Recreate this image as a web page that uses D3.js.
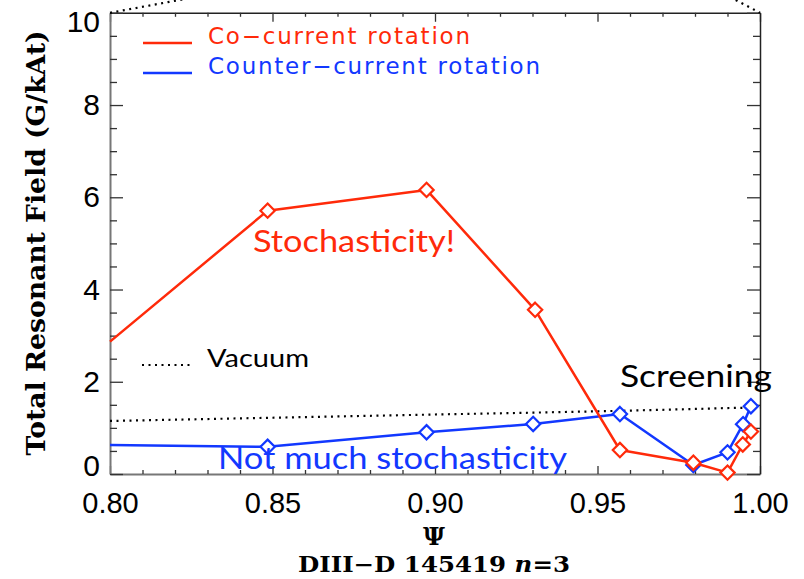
<!DOCTYPE html>
<html>
<head>
<meta charset="utf-8">
<script src="https://cdn.jsdelivr.net/npm/d3@7"></script>
<style>
  html, body { margin: 0; padding: 0; background: #fff; }
  svg { display: block; }
</style>
</head>
<body>
<svg id="chart" width="804" height="579"></svg>
<script>
// Normalised flux coordinate Ψ and total resonant field (G/kAt)
const coPsi      = [0.800, 0.8485, 0.8974, 0.9308, 0.9569, 0.9795, 0.9900, 0.9947, 0.9972];
const coField    = [2.87,  5.71,   6.16,   3.56,   0.52,   0.245,  0.03,   0.64,   0.92];
const counterPsi   = [0.800, 0.8485, 0.8974, 0.9302, 0.9569, 0.9795, 0.9900, 0.9948, 0.9972];
const counterField = [0.63,  0.59,   0.905,  1.085,  1.30,   0.195,  0.47,   1.08,   1.47];
const vacuumPsi   = [0.80, 0.85, 0.90, 0.93, 0.957, 0.98, 0.99, 1.00];
const vacuumField = [1.15, 1.22, 1.29, 1.33, 1.37,  1.41, 1.43, 1.44];
// vacuum trace running above the plotted range
const vacuumHighPsi   = [0.80, 0.86,  0.99,  1.00];
const vacuumHighField = [10.0, 10.78, 10.37, 10.0];

const xMajor = [0.80, 0.85, 0.90, 0.95, 1.00];
const yMajor = [0, 2, 4, 6, 8, 10];
const legendLabels = ["Co\u2212current rotation", "Counter\u2212current rotation"];

const RED = "#ff2a0a", BLUE = "#1238ff";

const svg = d3.select("#chart");
const L = 110, R = 760, T = 12.8, B = 474;
const x = d3.scaleLinear().domain([0.80, 1.00]).range([L, R]);
const y = d3.scaleLinear().domain([0, 10]).range([B, T]);

const xMinor = d3.range(80, 101).map(d => d / 100).filter(d => !xMajor.some(m => Math.abs(m - d) < 1e-9));
const yMinor = d3.range(0, 21).map(d => d / 2).filter(d => d % 2 !== 0);

const tickFont = "'Liberation Sans', Arial, sans-serif";

function styleAxis(g, color, width) {
  g.select(".domain").attr("stroke", color).attr("stroke-width", width);
  g.selectAll(".tick line").attr("stroke", "#333").attr("stroke-width", 1.3);
}
function minorTicks(g) {
  g.select(".domain").remove();
  g.selectAll("line").attr("stroke", "#333").attr("stroke-width", 1.3);
}

// bottom axis
const gB = svg.append("g").attr("transform", `translate(0,${B})`)
  .call(d3.axisBottom(x).tickValues(xMajor).tickSize(-8).tickSizeOuter(0)
        .tickPadding(18).tickFormat(d3.format(".2f")));
styleAxis(gB, "#777", 2);
gB.selectAll("text").attr("font-family", tickFont).attr("font-size", 29).attr("fill", "#000");
svg.append("g").attr("transform", `translate(0,${B})`)
  .call(d3.axisBottom(x).tickValues(xMinor).tickSize(-4).tickSizeOuter(0).tickFormat(""))
  .call(minorTicks);

// top axis
const gT = svg.append("g").attr("transform", `translate(0,${T})`)
  .call(d3.axisTop(x).tickValues(xMajor).tickSize(-9).tickSizeOuter(0).tickFormat(""));
styleAxis(gT, "#222", 1.5);
svg.append("g").attr("transform", `translate(0,${T})`)
  .call(d3.axisTop(x).tickValues(xMinor).tickSize(-4).tickSizeOuter(0).tickFormat(""))
  .call(minorTicks);

// left axis; end labels kept inside the frame height
const gL = svg.append("g").attr("transform", `translate(${L},0)`)
  .call(d3.axisLeft(y).tickValues(yMajor).tickSize(-13).tickSizeOuter(0).tickPadding(10).tickFormat(d3.format("d")));
styleAxis(gL, "#777", 2);
gL.selectAll("text").attr("font-family", tickFont).attr("font-size", 30).attr("fill", "#000")
  .attr("y", d => d === 10 ? 9 : d === 0 ? -8 : 0);
svg.append("g").attr("transform", `translate(${L},0)`)
  .call(d3.axisLeft(y).tickValues(yMinor).tickSize(-7).tickSizeOuter(0).tickFormat(""))
  .call(minorTicks);

// right axis
const gR = svg.append("g").attr("transform", `translate(${R},0)`)
  .call(d3.axisRight(y).tickValues(yMajor).tickSize(-13).tickSizeOuter(0).tickFormat(""));
styleAxis(gR, "#222", 1.5);
svg.append("g").attr("transform", `translate(${R},0)`)
  .call(d3.axisRight(y).tickValues(yMinor).tickSize(-7).tickSizeOuter(0).tickFormat(""))
  .call(minorTicks);

// data lines
const line = d3.line().x(d => x(d[0])).y(d => y(d[1]));
const zip = (a, b) => a.map((v, i) => [v, b[i]]);

svg.append("path").datum(zip(vacuumPsi, vacuumField)).attr("d", line)
  .attr("fill", "none").attr("stroke", "#000").attr("stroke-width", 2.2).attr("stroke-dasharray", "2,4.5");
svg.append("path").datum(zip(vacuumHighPsi, vacuumHighField)).attr("d", line)
  .attr("fill", "none").attr("stroke", "#000").attr("stroke-width", 2.2).attr("stroke-dasharray", "2,4.5");

const diamond = d3.symbol().type(d3.symbolDiamond2).size(130);
function series(psi, field, color) {
  const pts = zip(psi, field);
  svg.append("path").datum(pts).attr("d", line)
    .attr("fill", "none").attr("stroke", color).attr("stroke-width", 2.5).attr("stroke-linejoin", "round");
  svg.append("g").selectAll("path").data(pts.filter(p => p[0] > x.domain()[0]))
    .join("path").attr("d", diamond)
    .attr("transform", d => `translate(${x(d[0])},${y(d[1])})`)
    .attr("fill", "#fff").attr("stroke", color).attr("stroke-width", 2.2);
}
series(counterPsi, counterField, BLUE);
series(coPsi, coField, RED);

// legend
const legendColors = [RED, BLUE];
const legendY = [43, 73];
const legendLen = [262, 332];
legendLabels.forEach((lab, i) => {
  svg.append("line").attr("x1", 143).attr("x2", 192).attr("y1", legendY[i]).attr("y2", legendY[i])
    .attr("stroke", legendColors[i]).attr("stroke-width", 2.5);
  svg.append("text").attr("x", 208).attr("y", legendY[i] + 1).text(lab)
    .attr("font-family", "'DejaVu Sans', sans-serif").attr("font-size", 23)
    .attr("fill", legendColors[i]).attr("textLength", legendLen[i]).attr("lengthAdjust", "spacing");
});

// annotations
const annFont = "Lato, 'Open Sans', sans-serif";
function note(txt, x0, yb, len, size, color) {
  svg.append("text").attr("x", x0).attr("y", yb).text(txt)
    .attr("font-family", annFont).attr("font-size", size).attr("fill", color)
    .attr("textLength", len).attr("lengthAdjust", "spacingAndGlyphs");
}
note("Stochasticity!", 253, 252, 202, 31, RED);
note("Not much stochasticity", 218, 469, 349, 31, BLUE);
note("Screening", 620, 387, 152, 31, "#000");
svg.append("line").attr("x1", 142).attr("x2", 192).attr("y1", 365).attr("y2", 365)
  .attr("stroke", "#000").attr("stroke-width", 2.2).attr("stroke-dasharray", "2,4.5");
note("Vacuum", 207, 367, 102, 25, "#000");

// axis titles
const titleFont = "'DejaVu Serif', 'Liberation Serif', serif";
svg.append("text").attr("transform", "translate(45,243) rotate(-90)")
  .attr("text-anchor", "middle").attr("font-family", titleFont).attr("font-weight", "bold")
  .attr("font-size", 26).attr("textLength", 425).attr("lengthAdjust", "spacingAndGlyphs")
  .text("Total Resonant Field (G/kAt)");
svg.append("text").attr("x", 434).attr("y", 545).attr("text-anchor", "middle")
  .attr("font-family", titleFont).attr("font-weight", "bold").attr("font-size", 24).text("\u03A8");
const sub = svg.append("text").attr("x", 434).attr("y", 572).attr("text-anchor", "middle")
  .attr("font-family", titleFont).attr("font-weight", "bold").attr("font-size", 22)
  .attr("textLength", 272).attr("lengthAdjust", "spacingAndGlyphs");
sub.append("tspan").text("DIII\u2212D 145419 ");
sub.append("tspan").attr("font-style", "italic").text("n");
sub.append("tspan").text("=3");
</script>
</body>
</html>
